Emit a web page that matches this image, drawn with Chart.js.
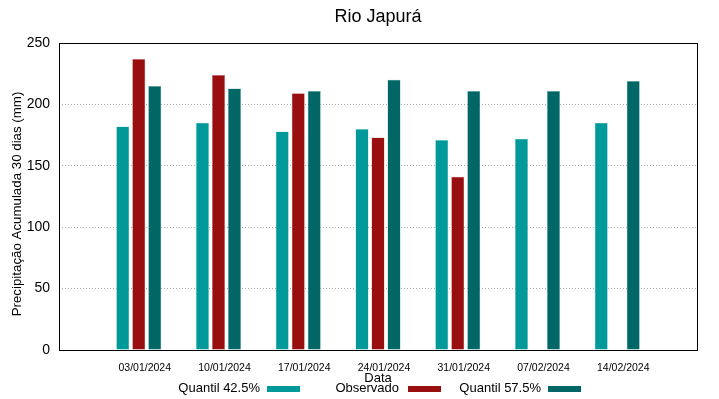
<!DOCTYPE html>
<html>
<head>
<meta charset="utf-8">
<script src="https://cdn.jsdelivr.net/npm/chart.js@4"></script>
<style>
  html, body { margin: 0; padding: 0; background: #fff; }
  #wrap { width: 719px; height: 399px; position: relative; }
</style>
</head>
<body>
<div id="wrap"><canvas id="chart" width="719" height="399"></canvas></div>
<script>
// Chart data
const dates = ['03/01/2024', '10/01/2024', '17/01/2024', '24/01/2024', '31/01/2024', '07/02/2024', '14/02/2024'];
const quantil425 = [182, 185, 178, 180, 171, 172, 185];
const observado = [237, 224, 209, 173, 141, null, null];
const quantil575 = [215, 213, 211, 220, 211, 211, 219];
const yTicks = [0, 50, 100, 150, 200, 250];

const FONT = 'Liberation Sans, Arial, sans-serif';

function toPoints(arr) {
    return arr.map((v, i) => ({ x: i, y: v })).filter(p => p.y !== null);
}

// frame, titles and gnuplot-like legend (text before colour box)
const decor = {
    id: 'decor',
    afterDraw(chart) {
        const ctx = chart.ctx;
        const a = chart.chartArea;
        ctx.save();
        ctx.strokeStyle = '#000';
        ctx.lineWidth = 1;
        ctx.strokeRect(Math.round(a.left) + 0.5, Math.round(a.top) + 0.5,
            Math.round(a.right - a.left), Math.round(a.bottom - a.top));

        ctx.fillStyle = '#000';
        ctx.font = '18px ' + FONT;
        ctx.textAlign = 'center';
        ctx.textBaseline = 'middle';
        ctx.fillText('Rio Japurá', (a.left + a.right) / 2, 17);

        // y axis title, sits a bit below the plot centre like the original
        ctx.save();
        ctx.translate(17, 204);
        ctx.rotate(-Math.PI / 2);
        ctx.font = '13.3px ' + FONT;
        ctx.fillText('Precipitação Acumulada 30 dias (mm)', 0, 0);
        ctx.restore();

        // legend
        const items = [
            { ds: 0, textRight: 260, boxLeft: 267 },
            { ds: 1, textRight: 399, boxLeft: 408 },
            { ds: 2, textRight: 541, boxLeft: 548 }
        ];
        ctx.font = '13px ' + FONT;
        ctx.textAlign = 'right';
        items.forEach(it => {
            const ds = chart.data.datasets[it.ds];
            ctx.fillStyle = '#000';
            ctx.fillText(ds.label, it.textRight, 388);
            ctx.fillStyle = ds.backgroundColor;
            ctx.fillRect(it.boxLeft, 386, 33, 6);
        });
        ctx.restore();
    }
};

const ctx = document.getElementById('chart').getContext('2d');
new Chart(ctx, {
    type: 'bar',
    data: {
        datasets: [
            { label: 'Quantil 42.5%', data: toPoints(quantil425), backgroundColor: '#009999', borderColor: '#7fcccc', borderWidth: 0.5 },
            { label: 'Observado', data: toPoints(observado), backgroundColor: '#990e0e', borderColor: '#cc8686', borderWidth: 0.5 },
            { label: 'Quantil 57.5%', data: toPoints(quantil575), backgroundColor: '#006666', borderColor: '#7fb2b2', borderWidth: 0.5 }
        ]
    },
    options: {
        responsive: false,
        animation: false,
        layout: { padding: { top: 43, right: 22, left: 0, bottom: 0 } },
        categoryPercentage: 0.602,
        barPercentage: 0.8125,
        plugins: {
            legend: { display: false },
            title: { display: false },
            tooltip: { enabled: false }
        },
        scales: {
            x: {
                type: 'linear',
                offset: false,
                min: -1,
                max: 7,
                afterFit: s => { s.height = 49; },
                afterBuildTicks: s => { s.ticks = dates.map((d, i) => ({ value: i })); },
                grid: { display: false, drawTicks: false, offset: false },
                border: { display: false },
                ticks: {
                    padding: 12,
                    labelOffset: 6,
                    autoSkip: false,
                    maxRotation: 0,
                    color: '#000',
                    font: { family: FONT, size: 10.5 },
                    callback: v => dates[v] || ''
                },
                title: {
                    display: true,
                    text: 'Data',
                    color: '#000',
                    font: { family: FONT, size: 13 },
                    padding: { top: 0, bottom: 13 }
                }
            },
            y: {
                min: 0,
                max: 250,
                afterFit: s => { s.width = 59; },
                afterBuildTicks: s => { s.ticks = yTicks.map(v => ({ value: v })); },
                grid: {
                    drawTicks: false,
                    color: c => (c.tick.value === 0 || c.tick.value === 250) ? 'rgba(0,0,0,0)' : '#a8a8a8',
                    lineWidth: 1
                },
                border: { display: false, dash: [1, 2] },
                ticks: {
                    padding: 9,
                    color: '#000',
                    font: { family: FONT, size: 14 }
                }
            }
        }
    },
    plugins: [decor]
});
</script>
</body>
</html>
